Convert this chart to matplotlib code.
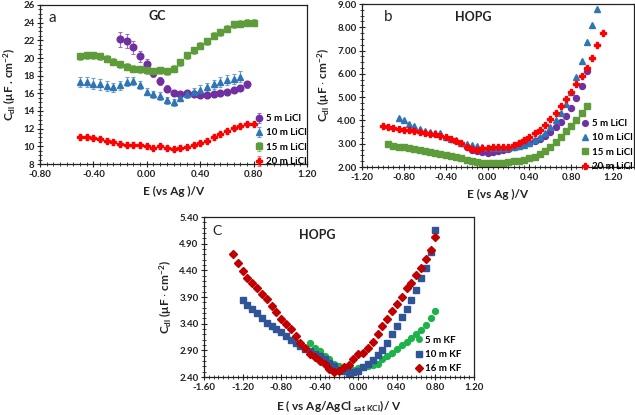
import matplotlib
matplotlib.use("Agg")
import matplotlib.pyplot as plt
from matplotlib.ticker import AutoMinorLocator

plt.rcParams['font.family'] = ['Lato', 'DejaVu Sans']
plt.rcParams['font.weight'] = 'bold'
plt.rcParams['mathtext.fontset'] = 'custom'
plt.rcParams['mathtext.rm'] = 'Lato:bold'
plt.rcParams['mathtext.it'] = 'Lato:bold'
plt.rcParams['mathtext.bf'] = 'Lato:bold'

# ---------------- Panel a: GC, LiCl ----------------
a_labels = ["5 m LiCl", "10 m LiCl", "15 m LiCl", "20 m LiCl"]
a_x5 = [-0.20, -0.15, -0.10, -0.05, 0.00, 0.05, 0.10, 0.15, 0.20, 0.25, 0.30, 0.35,
        0.40, 0.45, 0.50, 0.55, 0.60, 0.65, 0.70, 0.75]
a_y5 = [22.1, 21.9, 21.2, 20.2, 19.3, 18.3, 17.35, 16.5, 16.05, 15.9, 16.0, 15.9,
        15.8, 15.8, 15.9, 16.0, 16.1, 16.4, 16.6, 17.0]
a_e5 = [0.8, 0.8, 0.7, 0.6, 0.6, 0.5, 0.45, 0.4, 0.35, 0.3, 0.3, 0.3,
        0.3, 0.3, 0.3, 0.3, 0.3, 0.3, 0.35, 0.35]
a_x10 = [-0.50, -0.45, -0.40, -0.35, -0.30, -0.25, -0.20, -0.15, -0.10, -0.05, 0.00, 0.05,
         0.10, 0.15, 0.20, 0.25, 0.30, 0.35, 0.40, 0.45, 0.50, 0.55, 0.60, 0.65, 0.70]
a_y10 = [17.3, 17.3, 17.1, 17.0, 16.8, 16.7, 16.9, 17.3, 17.4, 16.9, 16.2, 15.9,
         15.7, 15.2, 15.0, 15.5, 15.9, 16.1, 16.4, 16.7, 17.0, 17.3, 17.5, 17.6, 17.9]
a_e10 = [0.6, 0.6, 0.6, 0.6, 0.55, 0.5, 0.5, 0.5, 0.5, 0.45, 0.4, 0.4,
         0.4, 0.4, 0.4, 0.4, 0.45, 0.45, 0.5, 0.5, 0.55, 0.55, 0.6, 0.6, 0.6]
a_x15 = [-0.50, -0.45, -0.40, -0.35, -0.30, -0.25, -0.20, -0.15, -0.10, -0.05, 0.00, 0.05,
         0.10, 0.15, 0.20, 0.25, 0.30, 0.35, 0.40, 0.45, 0.50, 0.55, 0.60, 0.65, 0.70, 0.75, 0.80]
a_y15 = [20.2, 20.3, 20.3, 20.2, 19.9, 19.6, 19.3, 19.0, 18.8, 18.7, 18.6, 18.5,
         18.6, 18.5, 18.8, 19.5, 20.3, 20.9, 21.4, 21.9, 22.5, 22.9, 23.3, 23.8, 23.9, 24.0, 24.0]
a_e15 = [0.4] * 27
a_x20 = [-0.50, -0.45, -0.40, -0.35, -0.30, -0.25, -0.20, -0.15, -0.10, -0.05, 0.00, 0.05,
         0.10, 0.15, 0.20, 0.25, 0.30, 0.35, 0.40, 0.45, 0.50, 0.55, 0.60, 0.65, 0.70, 0.75, 0.80]
a_y20 = [11.0, 11.0, 10.95, 10.8, 10.65, 10.45, 10.3, 10.2, 10.2, 10.1, 10.0, 9.8,
         10.0, 9.8, 9.7, 9.85, 9.95, 10.15, 10.4, 10.65, 11.0, 11.35, 11.7, 12.05, 12.3, 12.5, 12.55]
a_e20 = [0.25] * 27
a_xticks = [-0.80, -0.40, 0.00, 0.40, 0.80, 1.20]
a_yticks = [8, 10, 12, 14, 16, 18, 20, 22, 24, 26]

# ---------------- Panel b: HOPG, LiCl ----------------
b_labels = ["5 m LiCl", "10 m LiCl", "15 m LiCl", "20 m LiCl"]
b_x5 = [-0.20, -0.15, -0.10, -0.05, 0.00, 0.05, 0.10, 0.15, 0.20, 0.25, 0.30, 0.35,
        0.40, 0.45, 0.50, 0.55, 0.60, 0.65, 0.70, 0.75, 0.80, 0.85, 0.90, 0.95]
b_y5 = [2.85, 2.75, 2.70, 2.65, 2.62, 2.63, 2.67, 2.72, 2.78, 2.85, 2.90, 2.97,
        3.05, 3.12, 3.20, 3.33, 3.50, 3.72, 3.93, 4.20, 4.52, 4.95, 5.47, 6.12]
b_x10 = [-0.85, -0.80, -0.75, -0.70, -0.65, -0.60, -0.55, -0.50, -0.45, -0.40, -0.35, -0.30,
         -0.25, -0.20, -0.15, -0.10, -0.05, 0.00, 0.05, 0.10, 0.15, 0.20, 0.25, 0.30,
         0.35, 0.40, 0.45, 0.50, 0.55, 0.60, 0.65, 0.70, 0.75, 0.80, 0.85, 0.90, 0.95, 1.00, 1.05]
b_y10 = [4.12, 4.00, 3.85, 3.75, 3.65, 3.55, 3.50, 3.45, 3.45, 3.30, 3.20, 3.15,
         3.05, 3.00, 2.95, 2.90, 2.85, 2.80, 2.80, 2.80, 2.80, 2.82, 2.85, 2.90,
         2.95, 3.05, 3.15, 3.30, 3.45, 3.70, 4.00, 4.30, 4.70, 5.20, 5.85, 6.55, 7.35, 8.10, 8.80]
b_x15 = [-0.95, -0.90, -0.85, -0.80, -0.75, -0.70, -0.65, -0.60, -0.55, -0.50, -0.45, -0.40,
         -0.35, -0.30, -0.25, -0.20, -0.15, -0.10, -0.05, 0.00, 0.05, 0.10, 0.15, 0.20,
         0.25, 0.30, 0.35, 0.40, 0.45, 0.50, 0.55, 0.60, 0.65, 0.70, 0.75, 0.80, 0.85, 0.90, 0.95]
b_y15 = [2.97, 2.92, 2.88, 2.85, 2.82, 2.78, 2.74, 2.70, 2.66, 2.62, 2.57, 2.53,
         2.48, 2.43, 2.38, 2.32, 2.26, 2.20, 2.18, 2.17, 2.17, 2.18, 2.19, 2.21,
         2.24, 2.27, 2.32, 2.38, 2.45, 2.55, 2.68, 2.88, 3.08, 3.30, 3.55, 3.78, 4.03, 4.30, 4.62]
b_x20 = [-1.00, -0.95, -0.90, -0.85, -0.80, -0.75, -0.70, -0.65, -0.60, -0.55, -0.50, -0.45,
         -0.40, -0.35, -0.30, -0.25, -0.20, -0.15, -0.10, -0.05, 0.00, 0.05, 0.10, 0.15,
         0.20, 0.25, 0.30, 0.35, 0.40, 0.45, 0.50, 0.55, 0.60, 0.65, 0.70, 0.75, 0.80, 0.85,
         0.90, 0.95, 1.00, 1.05, 1.10]
b_y20 = [3.75, 3.72, 3.68, 3.65, 3.60, 3.57, 3.53, 3.50, 3.47, 3.43, 3.40, 3.35,
         3.28, 3.20, 3.12, 3.05, 2.87, 2.78, 2.75, 2.80, 2.83, 2.85, 2.85, 2.87,
         2.88, 2.95, 3.05, 3.15, 3.30, 3.45, 3.60, 3.80, 4.05, 4.30, 4.60, 4.90, 5.23, 5.55,
         5.90, 6.25, 6.70, 7.22, 7.75]
b_xticks = [-1.20, -0.80, -0.40, 0.00, 0.40, 0.80, 1.20]
b_yticks = [2.00, 3.00, 4.00, 5.00, 6.00, 7.00, 8.00, 9.00]

# ---------------- Panel c: HOPG, KF ----------------
c_labels = ["5 m KF", "10 m KF", "16 m KF"]
c_x5 = [-0.50, -0.45, -0.40, -0.35, -0.30, -0.25, -0.20, -0.15, -0.10, -0.05, 0.00, 0.05,
        0.10, 0.15, 0.20, 0.25, 0.30, 0.35, 0.40, 0.45, 0.50, 0.55, 0.60, 0.65, 0.70, 0.75, 0.80]
c_y5 = [3.03, 2.95, 2.89, 2.79, 2.73, 2.65, 2.60, 2.56, 2.53, 2.53, 2.56, 2.59,
        2.60, 2.62, 2.65, 2.73, 2.79, 2.85, 2.92, 3.00, 3.06, 3.13, 3.21, 3.28, 3.38, 3.51, 3.64]
c_x10 = [-1.20, -1.15, -1.10, -1.05, -1.00, -0.95, -0.90, -0.85, -0.80, -0.75, -0.70, -0.65,
         -0.60, -0.55, -0.50, -0.45, -0.40, -0.35, -0.30, -0.25, -0.20, -0.15, -0.10, -0.05,
         0.00, 0.05, 0.10, 0.15, 0.20, 0.25, 0.30, 0.35, 0.40, 0.45, 0.50, 0.55, 0.60, 0.65,
         0.70, 0.75, 0.80]
c_y10 = [3.85, 3.75, 3.68, 3.60, 3.50, 3.42, 3.36, 3.30, 3.25, 3.17, 3.10, 3.04,
         2.98, 2.92, 2.89, 2.84, 2.79, 2.73, 2.67, 2.60, 2.54, 2.51, 2.48, 2.49,
         2.51, 2.59, 2.64, 2.72, 2.81, 2.90, 3.04, 3.21, 3.35, 3.52, 3.67, 3.85, 4.04, 4.25,
         4.45, 4.75, 5.15]
c_x16 = [-1.30, -1.25, -1.20, -1.15, -1.10, -1.05, -1.00, -0.95, -0.90, -0.85, -0.80, -0.75,
         -0.70, -0.65, -0.60, -0.55, -0.50, -0.45, -0.40, -0.35, -0.30, -0.25, -0.20, -0.15,
         -0.10, -0.05, 0.00, 0.05, 0.10, 0.15, 0.20, 0.25, 0.30, 0.35, 0.40, 0.45, 0.50, 0.55,
         0.60, 0.65, 0.70, 0.75, 0.80]
c_y16 = [4.71, 4.53, 4.39, 4.26, 4.17, 4.06, 3.96, 3.87, 3.74, 3.61, 3.49, 3.40,
         3.30, 3.16, 3.04, 2.94, 2.83, 2.77, 2.70, 2.64, 2.55, 2.49, 2.51, 2.58,
         2.62, 2.73, 2.83, 2.85, 2.95, 3.06, 3.21, 3.35, 3.49, 3.63, 3.76, 3.90, 4.06, 4.17,
         4.31, 4.45, 4.61, 4.79, 5.03]
c_xticks = [-1.60, -1.20, -0.80, -0.40, 0.00, 0.40, 0.80, 1.20]
c_yticks = [2.40, 2.90, 3.40, 3.90, 4.40, 4.90, 5.40]

PURPLE = "#7030A0"
BLUE = "#2E75B6"
GREEN = "#5E9B3A"
RED = "#FF0000"
C_GREEN = "#1DB24A"
C_BLUE = "#2F5597"
C_RED = "#C00000"

W, H = 635, 415
fig = plt.figure(figsize=(W / 100, H / 100), dpi=100)


def px_axes(l, t, r, b):
    return fig.add_axes([l / W, 1 - b / H, (r - l) / W, (b - t) / H])


def style(ax, xlim, ylim, xticks, yticks, xfmt, yfmt, xminor, yminor):
    ax.set_xticks(xticks)
    ax.set_yticks(yticks)
    ax.set_xticklabels([xfmt % v for v in xticks], fontweight='bold')
    ax.set_yticklabels([yfmt % v for v in yticks], fontweight='bold')
    ax.set_xlim(*xlim)
    ax.set_ylim(*ylim)
    ax.xaxis.set_minor_locator(AutoMinorLocator(xminor))
    ax.yaxis.set_minor_locator(AutoMinorLocator(yminor))
    ax.tick_params(which='major', direction='inout', length=4, width=0.8,
                   labelsize=7, pad=2, colors='#222222')
    ax.tick_params(which='minor', direction='inout', length=2.5, width=0.6, colors='#222222')
    for s in ax.spines.values():
        s.set_linewidth(0.9)
        s.set_color('#222222')


lab_font = dict(fontsize=8.5, fontweight='bold', color='#222222')
leg_kw = dict(frameon=False, fontsize=7, handletextpad=0.15, labelspacing=0.55,
              borderpad=0.1, handlelength=1.0, borderaxespad=0, markerscale=0.95)

# ---- Panel a ----
axa = px_axes(40, 5, 307, 164)
eb_kw = dict(linestyle='none', ms=4.8, capsize=1.6, elinewidth=0.8, capthick=0.8)
axa.errorbar(a_x5, a_y5, yerr=a_e5, fmt='o', color=PURPLE, ecolor='#9B6FC0', label=a_labels[0], **eb_kw)
axa.errorbar(a_x10, a_y10, yerr=a_e10, fmt='^', color=BLUE, ecolor='#6E9FD0', label=a_labels[1], **eb_kw)
axa.errorbar(a_x15, a_y15, yerr=a_e15, fmt='s', color=GREEN, ecolor='#93C07A', label=a_labels[2], **eb_kw)
axa.errorbar(a_x20, a_y20, yerr=a_e20, fmt='P', color=RED, ecolor='#FF7070', label=a_labels[3], **eb_kw)
style(axa, (-0.8, 1.2), (8, 26), a_xticks, a_yticks, '%.2f', '%d', 8, 4)
axa.set_xlabel("E (vs Ag )/V", labelpad=5, **lab_font)
axa.set_ylabel(r"C$_{dl}$ ($\mu$F . cm$^{-2}$)", labelpad=4, **lab_font)
axa.text(0.03, 0.92, "a", transform=axa.transAxes, fontsize=11, fontweight='normal',
         va='center', ha='left', color='#222222')
axa.text(0.44, 0.93, "GC", transform=axa.transAxes, fontsize=9, fontweight='bold',
         va='center', ha='center', color='#222222')
h, l = axa.get_legend_handles_labels()
axa.legend(h, l, loc='upper left', bbox_to_anchor=(0.80, 0.32), **leg_kw)

# ---- Panel b ----
axb = px_axes(362, 4, 634, 167)
mk_kw = dict(linestyle='none', ms=4.3)
axb.plot(b_x5, b_y5, 'o', color=PURPLE, label=b_labels[0], **mk_kw)
axb.plot(b_x10, b_y10, '^', color=BLUE, label=b_labels[1], **mk_kw)
axb.plot(b_x15, b_y15, 's', color=GREEN, label=b_labels[2], **mk_kw)
axb.plot(b_x20, b_y20, 'P', color=RED, label=b_labels[3], linestyle='none', ms=4.0)
style(axb, (-1.2, 1.4), (2, 9), b_xticks, b_yticks, '%.2f', '%.2f', 8, 4)
axb.set_xlabel("E (vs Ag )/V", labelpad=5, **lab_font)
axb.set_ylabel(r"C$_{dl}$ ($\mu$F $\cdot$ cm$^{-2}$)", labelpad=4, **lab_font)
axb.text(0.08, 0.92, "b", transform=axb.transAxes, fontsize=11, fontweight='normal',
         va='center', ha='left', color='#222222')
axb.text(0.41, 0.92, "HOPG", transform=axb.transAxes, fontsize=9, fontweight='bold',
         va='center', ha='center', color='#222222')
axb.legend(loc='upper left', bbox_to_anchor=(0.80, 0.30), **leg_kw)

# ---- Panel c ----
axc = px_axes(204, 217, 474, 377)
axc.plot(c_x5, c_y5, 'o', color=C_GREEN, label=c_labels[0], linestyle='none', ms=4.2)
axc.plot(c_x10, c_y10, 's', color=C_BLUE, label=c_labels[1], linestyle='none', ms=4.6)
axc.plot(c_x16, c_y16, 'D', color=C_RED, label=c_labels[2], linestyle='none', ms=4.2)
style(axc, (-1.6, 1.2), (2.4, 5.4), c_xticks, c_yticks, '%.2f', '%.2f', 8, 5)
axc.set_xlabel(r"E ( vs Ag/AgCl$_{\ sat\ KCl}$)/ V", labelpad=5, **lab_font)
axc.set_ylabel(r"C$_{dl}$ ($\mu$F $\cdot$ cm$^{-2}$)", labelpad=4, **lab_font)
axc.text(0.03, 0.91, "C", transform=axc.transAxes, fontsize=10, fontweight='normal',
         va='center', ha='left', color='#222222')
axc.text(0.42, 0.89, "HOPG", transform=axc.transAxes, fontsize=9, fontweight='bold',
         va='center', ha='center', color='#222222')
axc.legend(loc='upper left', bbox_to_anchor=(0.775, 0.265), **leg_kw)

fig.savefig("out.png", dpi=100)
